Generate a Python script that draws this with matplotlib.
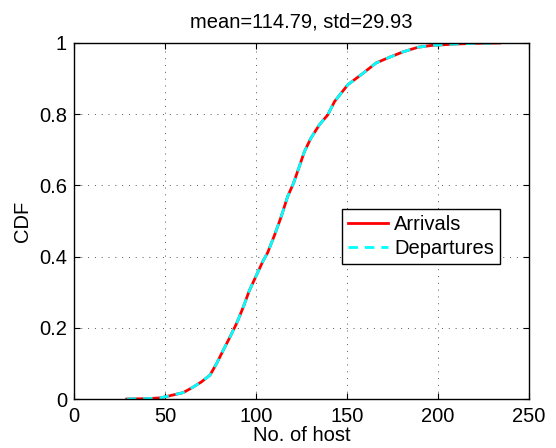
import numpy as np
import matplotlib
matplotlib.use("Agg")
import matplotlib.pyplot as plt

plt.rcParams['font.family'] = ['Liberation Sans', 'DejaVu Sans']

# values (No. of host, CDF)
hosts = [29, 40, 47, 50, 55, 60, 65, 70, 74.7, 78.4, 82, 85.7, 89.4, 93, 96.3,
         100, 103.7, 106.4, 110, 113.7, 117.4, 120.6, 123.8, 126.6, 130.2,
         134.8, 139.4, 143.2, 150.5, 158.8, 166, 173.4, 180.7, 189, 196.3,
         209, 220, 234]
cdf_arr = [0, 0.001, 0.003, 0.006, 0.012, 0.018, 0.032, 0.048, 0.067, 0.10,
           0.137, 0.174, 0.213, 0.258, 0.304, 0.345, 0.386, 0.411, 0.458,
           0.51, 0.569, 0.606, 0.653, 0.695, 0.733, 0.77, 0.798, 0.836,
           0.883, 0.915, 0.944, 0.96, 0.975, 0.988, 0.993, 0.997, 0.999, 1.0]
cdf_dep = list(cdf_arr)

title = "mean=114.79, std=29.93"
xticks = [0, 50, 100, 150, 200, 250]
yticks = [0, 0.2, 0.4, 0.6, 0.8, 1]
ytick_labels = ["0", "0.2", "0.4", "0.6", "0.8", "1"]

FS = 14.5

fig = plt.figure(figsize=(5.56, 4.48), dpi=100)
ax = fig.add_axes([74 / 556, 49 / 448, 455 / 556, 356 / 448])

ax.plot(hosts, cdf_arr, color='red', lw=2, label='Arrivals')
ax.plot(hosts, cdf_dep, color='cyan', lw=2, ls='--', dashes=(3.4, 2.5), label='Departures')

ax.set_xlim(0, 250)
ax.set_ylim(0, 1)
ax.set_xticks(xticks)
ax.set_yticks(yticks)
ax.set_yticklabels(ytick_labels)
ax.tick_params(direction='in', top=True, right=True, length=4, width=0.8,
               labelsize=FS)
ax.tick_params(axis='x', pad=6)
ax.tick_params(axis='y', pad=5)
ax.grid(True, color='#555555', lw=0.7, ls=(0, (1, 6)))
for s in ax.spines.values():
    s.set_linewidth(1.0)

ax.set_title(title, fontsize=FS, pad=11)
ax.set_xlabel("No. of host", fontsize=FS, labelpad=0)
ax.set_ylabel("CDF", fontsize=FS, labelpad=5)

leg = ax.legend(loc='upper left', bbox_to_anchor=(268 / 455, 190 / 356),
                fontsize=FS, frameon=True, fancybox=False, framealpha=1,
                edgecolor='black', handlelength=2.0, borderpad=0.3,
                labelspacing=0.25, handletextpad=0.3, borderaxespad=0)
leg.get_frame().set_linewidth(1.0)

fig.savefig("out.png", dpi=100)
